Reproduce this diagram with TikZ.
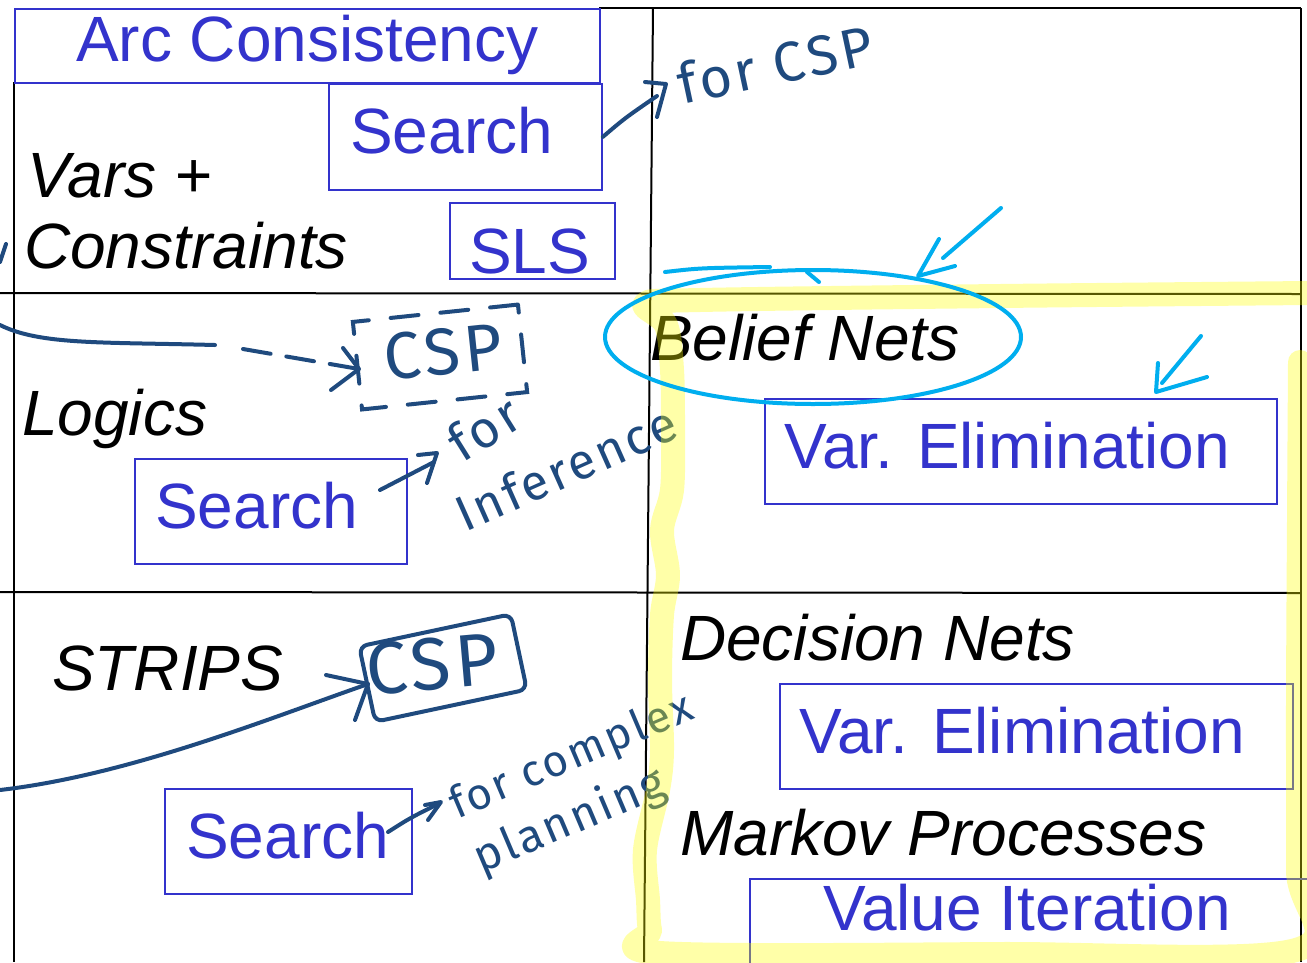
\documentclass[tikz,border=0pt]{standalone}
\usepackage{fontspec}
\setmainfont{Liberation Sans}
\newfontfamily\handfont[LetterSpace=6]{Fira Sans}
\definecolor{boxblue}{RGB}{51,51,204}
\definecolor{ink}{RGB}{31,74,126}
\definecolor{cyanink}{RGB}{0,174,239}
\definecolor{hilite}{RGB}{255,255,0}

\begin{document}
\begin{tikzpicture}[x=1pt,y=-1pt,
  gridline/.style={line width=2pt, black},
  bluebox/.style={draw=boxblue, line width=1.8pt, inner sep=0pt, anchor=north west},
  bluetext/.style={text=boxblue, font=\fontsize{64}{70}\selectfont, inner sep=0pt, anchor=base west},
  topic/.style={text=black, font=\fontsize{64}{70}\selectfont\itshape, inner sep=0pt, anchor=base west},
  pen/.style={draw=ink, line width=4pt, line cap=round, line join=round},
  hand/.style={text=ink, font=\handfont\fontsize{56}{60}\selectfont, inner sep=0pt},
  marker/.style={draw=cyanink, line width=4pt, line cap=round, line join=round},
  highlighter/.style={draw=hilite, draw opacity=0.34, line width=24pt, line cap=round, line join=round},
]
\path[use as bounding box] (0,0) rectangle (1307,962);
\clip (0,0) rectangle (1307,962);
\fill[white] (0,0) rectangle (1307,962);

% table grid
\draw[gridline] (599,8) -- (1301,8);
\draw[gridline] (14,82) -- (14,962);
\draw[gridline] (1301,8) -- (1301,962);
\draw[gridline] (653,8) -- (644,962);
\draw[gridline] (0,293) -- (1301,294);
\draw[gridline] (0,592) -- (1301,593);

% method boxes
\node[bluebox, minimum width=585pt, minimum height=74pt] (arcbox) at (14,8) {};
\node[bluebox, minimum width=273pt, minimum height=106pt] (search1) at (328,83) {};
\node[bluebox, minimum width=165pt, minimum height=76pt] (sls) at (449,202) {};
\node[bluebox, minimum width=272pt, minimum height=105pt] (search2) at (134,458) {};
\node[bluebox, minimum width=247pt, minimum height=105pt] (search3) at (164,788) {};
\node[bluebox, minimum width=512pt, minimum height=105pt] (ve1) at (764,398) {};
\node[bluebox, minimum width=513pt, minimum height=105pt] (ve2) at (779,683) {};
\node[bluebox, minimum width=600pt, minimum height=120pt] (vi) at (749,878) {};

\node[bluetext] (arctext) at (76,61) {Arc Consistency};
\node[bluetext] (search1text) at (350,153) {Search};
\node[bluetext] (slstext) at (469,273) {SLS};
\node[bluetext] (search2text) at (155,528) {Search};
\node[bluetext] (search3text) at (186,858) {Search};
\node[bluetext] (ve1text) at (784,468) {Var. Elimination};
\node[bluetext] (ve2text) at (799,753) {Var. Elimination};
\node[bluetext] (vitext) at (823,930) {Value Iteration};

% representations
\node[topic] (vars) at (27,197) {Vars +};
\node[topic] (constraints) at (24,268) {Constraints};
\node[topic] (logics) at (22,435) {Logics};
\node[topic] (strips) at (52,690) {STRIPS};
\node[topic] (belief) at (650,360) {Belief Nets};
\node[topic] (decision) at (680,660) {Decision Nets};
\node[topic] (markov) at (680,855) {Markov Processes};

% ink notes
\draw[pen] (0,262) -- (6,244);

\node[hand, rotate=12] (forcsp) at (775,64) {for CSP};
\coordinate (tip1) at (657,96);
\draw[pen] (search1.east) .. controls (625,118) .. (tip1);
\draw[pen] (645,82) -- (666,84) -- (657,117);

\node[hand, font=\handfont\fontsize{66}{70}\selectfont, rotate=6] (csp1) at (443,352) {CSP};
\node[draw=ink, line width=4pt, dash pattern=on 28pt off 22pt, line cap=round,
      minimum width=166pt, minimum height=88pt, rotate=6] (csp1box) at (440,357) {};
\coordinate (tip2) at (359,369);
\draw[pen] (0,325) .. controls (40,345) and (100,342) .. (215,345);
\draw[pen, dash pattern=on 28pt off 16pt] (243,349) -- (tip2);
\draw[pen] (343,348) -- (tip2) -- (331,390);

\node[hand, font=\handfont\fontsize{52}{56}\selectfont, rotate=32] (for2) at (484,428) {for};
\node[hand, font=\handfont\fontsize{50}{54}\selectfont, rotate=24] (inference) at (566,468) {Inference};
\coordinate (tip3) at (434,462);
\draw[pen] (380,490) -- (tip3);
\draw[pen] (418,455) -- (437,453) -- (427,483);

\node[hand, font=\handfont\fontsize{74}{78}\selectfont, rotate=5] (csp2) at (432,664) {CSP};
\node[draw=ink, line width=4pt, rounded corners=8pt, minimum width=155pt, minimum height=77pt,
      rotate=12] (csp2box) at (443,668) {};
\coordinate (tip4) at (368,684);
\draw[pen] (0,790) .. controls (130,775) and (270,718) .. (tip4);
\draw[pen] (326,675) -- (tip4) -- (355,720);

\node[hand, font=\handfont\fontsize{44}{48}\selectfont, rotate=23] (forcomplex) at (572,758) {for complex};
\node[hand, font=\handfont\fontsize{46}{50}\selectfont, rotate=23] (planning) at (570,822) {planning};
\coordinate (tip5) at (438,804);
\draw[pen] (388,832) .. controls (410,818) .. (tip5);
\draw[pen] (425,805) -- (441,802) -- (428,820);

% highlighter around the probabilistic cells
\draw[highlighter] plot[smooth, tension=0.55] coordinates {
  (1300,362) (1299,520) (1298,700) (1298,870) (1296,950)
  (1000,954) (660,953) (650,930) (648,900) (645,850) (658,790)
  (662,750) (660,680) (662,615) (668,575) (662,530) (672,490)
  (673,430) (672,370) (666,325) (645,304) (700,300) (1000,296) (1310,293)};

% cyan emphasis
\draw[marker] (813,337) ellipse [x radius=208, y radius=67];
\draw[marker] (665,272) .. controls (700,268) .. (770,267);
\draw[marker] (807,272) -- (819,282);
\coordinate (ctip1) at (918,276);
\draw[marker] (1001,208) -- (943,258);
\draw[marker] (939,239) -- (ctip1) -- (955,266);
\coordinate (ctip2) at (1156,392);
\draw[marker] (1201,336) -- (1162,383);
\draw[marker] (1158,363) -- (ctip2) -- (1207,377);
\end{tikzpicture}
\end{document}
